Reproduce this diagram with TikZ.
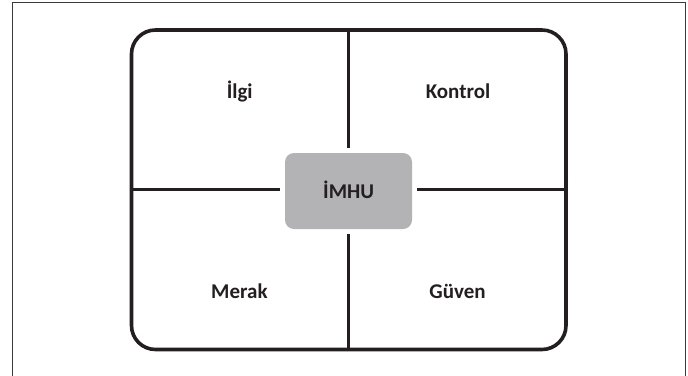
\documentclass[tikz,border=0pt]{standalone}
\usepackage{fontspec}
\setmainfont{Carlito}
\definecolor{txt}{HTML}{231F20}
\definecolor{boxfill}{HTML}{B3B3B5}
\definecolor{framecol}{HTML}{3A3A3A}
\begin{document}
\begin{tikzpicture}[x=1pt,y=-1pt,
  lab/.style={font=\bfseries\fontsize{21}{24}\selectfont, text=txt, anchor=base, inner sep=0pt},
  panel/.style={draw=txt, line width=3.6pt, rounded corners=24pt, inner sep=0pt},
  divider/.style={draw=txt, line width=3.4pt},
  hub/.style={fill=boxfill, rounded corners=9pt, inner sep=0pt, minimum width=127pt, minimum height=76pt}]
\useasboundingbox (0,0) rectangle (688,375);
\draw[line width=1pt, draw=framecol] (12.5,380) -- (12.5,2.5) -- (685,2.5) -- (685,380);
\node[panel, minimum width=434.5pt, minimum height=319.5pt] (outer) at (348.75,189.75) {};
\node[hub] (c) at (348.5,191) {};
\node[lab] (hubtext) at (348.7,198.3) {İMHU};
\draw[divider, shorten >=5pt] (outer.north) -- (outer.north |- c.north);
\draw[divider, shorten >=5pt] (outer.south) -- (outer.south |- c.south);
\draw[divider, shorten >=5pt] (outer.west) -- (outer.west -| c.west);
\draw[divider, shorten >=5pt] (outer.east) -- (outer.east -| c.east);
\node[lab] (ilgi) at (239.7,98) {İlgi};
\node[lab] (kontrol) at (458,98) {Kontrol};
\node[lab] (merak) at (239.4,298.3) {Merak};
\node[lab] (guven) at (457.5,298.5) {Güven};
\end{tikzpicture}
\end{document}
